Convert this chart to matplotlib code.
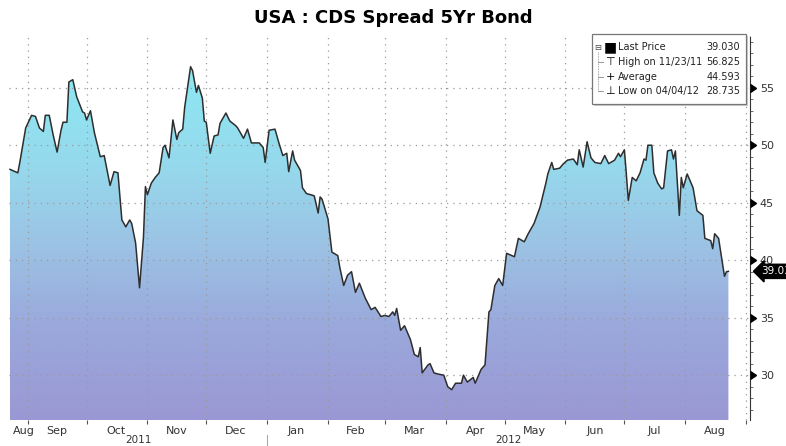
import numpy as np
import matplotlib
matplotlib.use("Agg")
import matplotlib.pyplot as plt
import matplotlib.dates as mdates
import matplotlib.transforms as mtransforms
from matplotlib.colors import LinearSegmentedColormap
from matplotlib.patches import Rectangle

# ---------------- data ----------------
start_date = "2011-08-22"
days = [1, 5, 6, 9, 12, 14, 16, 18, 19, 21, 23, 25, 27, 28, 30, 31, 33, 35, 38, 39,
        40, 42, 44, 47, 49, 52, 54, 56, 58, 60, 62, 63, 65, 67, 69, 70, 71, 73, 75, 77,
        79, 80, 82, 83, 84, 86, 87, 89, 90, 93, 94, 96, 97, 99, 100, 101, 103, 105, 107, 108,
        111, 113, 116, 117, 120, 122, 124, 128, 130, 131, 133, 136, 138, 140, 142, 143, 145, 146, 149, 150,
        152, 154, 156, 158, 159, 160, 163, 165, 168, 169, 171, 173, 175, 177, 179, 182, 185, 187, 190, 192,
        194, 196, 197, 198, 200, 202, 205, 207, 209, 210, 211, 214, 215, 217, 219, 222, 224, 226, 228, 231,
        232, 234, 237, 238, 241, 243, 245, 246, 248, 250, 252, 254, 258, 260, 263, 265, 268, 271, 274, 275,
        277, 278, 281, 283, 285, 288, 290, 291, 293, 295, 297, 299, 302, 304, 306, 309, 311, 312, 314, 315,
        316, 318, 320, 322, 324, 325, 326, 328, 329, 331, 333, 334, 336, 338, 339, 340, 342, 343, 344, 346,
        348, 349, 351, 354, 355, 358, 359, 360, 362, 365, 366, 367]
values = [47.9, 47.6, 48.5, 51.5, 52.6, 52.5, 51.5, 51.2, 52.6, 52.6, 50.9, 49.4, 51.3, 52.0, 52.0, 55.5, 55.7, 54.2, 52.9, 52.8,
          52.2, 53.0, 51.1, 49.0, 49.1, 46.5, 47.7, 47.6, 43.5, 42.9, 43.5, 43.2, 41.5, 37.6, 42.0, 46.4, 45.7, 46.7, 47.2, 47.6,
          49.8, 50.0, 48.9, 50.5, 52.2, 50.5, 51.1, 51.4, 53.3, 56.825, 56.5, 54.6, 55.2, 54.1, 52.1, 52.0, 49.3, 50.8, 50.9, 51.9,
          52.8, 52.1, 51.7, 51.5, 50.6, 51.4, 50.2, 50.2, 49.8, 48.5, 51.3, 51.4, 50.2, 49.1, 49.3, 47.7, 49.5, 48.7, 47.8, 46.3,
          45.8, 45.7, 45.6, 44.1, 45.5, 45.3, 43.6, 40.7, 40.4, 39.4, 37.8, 38.7, 39.0, 37.2, 38.0, 36.7, 35.7, 35.9, 35.1, 35.2,
          35.1, 35.5, 35.2, 35.8, 33.9, 34.3, 33.1, 31.8, 31.6, 32.4, 30.2, 30.9, 31.0, 30.2, 30.1, 30.0, 29.0, 28.735, 29.3, 29.3,
          30.0, 29.4, 29.8, 29.3, 30.5, 30.9, 35.5, 35.7, 37.8, 38.4, 37.8, 40.6, 40.3, 41.9, 41.6, 42.3, 43.2, 44.6, 46.7, 47.5,
          48.5, 47.9, 48.0, 48.4, 48.7, 48.8, 48.3, 49.6, 48.1, 50.3, 48.9, 48.5, 48.4, 49.1, 48.4, 48.7, 49.3, 49.0, 49.6, 47.5,
          45.2, 47.2, 46.9, 47.6, 48.8, 48.7, 50.0, 50.0, 47.6, 46.7, 46.2, 46.3, 49.5, 49.6, 48.8, 49.5, 43.9, 47.2, 46.3, 47.5,
          46.7, 46.3, 44.3, 43.9, 41.9, 41.7, 41.0, 42.3, 41.9, 38.6, 39.0, 39.03]

month_labels = ["Aug", "Sep", "Oct", "Nov", "Dec", "Jan", "Feb", "Mar", "Apr", "May", "Jun", "Jul", "Aug"]
month_label_dates = ["2011-08-30", "2011-09-16", "2011-10-16", "2011-11-16", "2011-12-16", "2012-01-16",
                     "2012-02-15", "2012-03-16", "2012-04-16", "2012-05-16", "2012-06-16", "2012-07-16", "2012-08-16"]
year_labels = ["2011", "2012"]
y_ticks = [30, 35, 40, 45, 50, 55]
legend_labels = ["Last Price", "High on 11/23/11", "Average", "Low on 04/04/12"]
legend_values = [39.030, 56.825, 44.593, 28.735]
title = "USA : CDS Spread 5Yr Bond"

# ---------------- figure ----------------
W, H = 786, 446
fig = plt.figure(figsize=(W / 100, H / 100), dpi=100)
ax = fig.add_axes([9 / W, 26 / H, (750 - 9) / W, (420 - 36) / H])

dates = np.datetime64(start_date) + np.array(days).astype("timedelta64[D]")
x = mdates.date2num(dates)
x0 = mdates.date2num(np.datetime64(start_date)) + 0.5
x1 = mdates.date2num(np.datetime64("2012-09-03"))
ymin, ymax = 26.1, 59.5
ax.set_xlim(x0, x1)
ax.set_ylim(ymin, ymax)

# gradient fill under the curve
cmap = LinearSegmentedColormap.from_list(
    "bbg", [(0.0, "#9a98d4"), (0.25, "#9aa9dc"), (0.45, "#9cc2e4"), (0.65, "#96d8ec"), (1.0, "#8aeef5")])
grad = np.linspace(0, 1, 256).reshape(-1, 1)
poly = ax.fill_between(x, values, ymin, facecolor="none", edgecolor="none")
im = ax.imshow(grad, extent=[x0, x1, ymin, ymax], origin="lower", aspect="auto", cmap=cmap, zorder=1)
im.set_clip_path(poly.get_paths()[0], transform=ax.transData)
ax.plot(x, values, color="#2e2e2e", lw=1.1, zorder=3)

# grid
ax.set_yticks(y_ticks)
ax.yaxis.set_minor_locator(matplotlib.ticker.MultipleLocator(1))
ax.xaxis.set_major_locator(mdates.MonthLocator())
ax.xaxis.set_major_formatter(matplotlib.ticker.NullFormatter())
ax.grid(True, which="major", color="#9a9a9a", linestyle=(0, (1, 4)), lw=0.9, zorder=2)

# month labels (minor ticks, no marks)
lab_x = mdates.date2num(np.array(month_label_dates, dtype="datetime64[D]"))
ax.xaxis.set_minor_locator(matplotlib.ticker.FixedLocator(lab_x))
ax.xaxis.set_minor_formatter(matplotlib.ticker.FixedFormatter(month_labels))
ax.tick_params(axis="x", which="minor", length=0, labelsize=8, labelcolor="#333333", pad=4)
ax.tick_params(axis="x", which="major", length=3, color="#555555", direction="out")

# year labels centered on visible part of each year
jan1 = mdates.date2num(np.datetime64("2012-01-01"))
yr_centers = [(x0 + jan1) / 2, (jan1 + x1) / 2]
btrans = mtransforms.blended_transform_factory(ax.transData, ax.transAxes)
for xc, lab in zip(yr_centers, year_labels):
    ax.text(xc, -0.053, lab, transform=btrans, ha="center", va="center", fontsize=7.5, color="#333333")
ax.plot([jan1, jan1], [-0.04, -0.07], transform=btrans, color="#aaaaaa", lw=0.8, clip_on=False)

# right y axis
ax.yaxis.tick_right()
ax.tick_params(axis="y", which="major", length=0, labelsize=8, labelcolor="#333333", pad=7)
ax.tick_params(axis="y", which="minor", length=2, color="#555555", direction="out")
ytrans = mtransforms.blended_transform_factory(ax.transAxes, ax.transData)
ax.plot([1.0] * len(y_ticks), y_ticks, transform=ytrans, marker=9, ms=6, color="black",
        linestyle="none", clip_on=False, zorder=5)
for s in ["top", "left", "bottom"]:
    ax.spines[s].set_visible(False)
ax.spines["right"].set_color("#333333")
ax.spines["right"].set_linestyle((0, (1, 1)))

# last price tag
last = values[-1]
ax.annotate(f"{last:.3f}", xy=(1.0, last), xycoords=ytrans, xytext=(8, 0), textcoords="offset points",
            ha="left", va="center", fontsize=7.5, color="white", annotation_clip=False,
            bbox=dict(boxstyle="larrow,pad=0.2", fc="black", ec="black"))

# legend box
bx0, bx1, by0, by1 = 592 / W, 746 / W, 1 - 104 / H, 1 - 34 / H
fig.patches.append(Rectangle((bx0 + 1.5 / W, by0 - 1.5 / H), bx1 - bx0, by1 - by0, transform=fig.transFigure,
                             fc="#cccccc", ec="none", zorder=5))
fig.patches.append(Rectangle((bx0, by0), bx1 - bx0, by1 - by0, transform=fig.transFigure,
                             fc="white", ec="#777777", lw=0.9, zorder=6))
row_y = [1 - 47 / H, 1 - 62 / H, 1 - 77 / H, 1 - 91 / H]
icons = ["\u25A0", "\u22A4", "+", "\u22A5"]
for yy, lab, val, ic in zip(row_y, legend_labels, legend_values, icons):
    fig.text(618 / W, yy, lab, ha="left", va="center", fontsize=7, color="#222222", zorder=7)
    fig.text(740 / W, yy, f"{val:.3f}", ha="right", va="center", fontsize=7, color="#222222", zorder=7)
    fig.text(610 / W, yy, ic, ha="center", va="center", fontsize=8 if ic != "\u25A0" else 10,
             color="black", zorder=7)
fig.text(598 / W, row_y[0], "\u229F", ha="center", va="center", fontsize=6, color="#444444", zorder=7)
fig.lines.append(plt.Line2D([598 / W, 598 / W], [row_y[0] - 5 / H, row_y[3]], transform=fig.transFigure,
                            color="#888888", lw=0.6, linestyle=(0, (1, 1)), zorder=7))
for yy in row_y[1:]:
    fig.lines.append(plt.Line2D([598 / W, 603 / W], [yy, yy], transform=fig.transFigure,
                                color="#888888", lw=0.6, zorder=7))

fig.text(0.5, 1 - 18 / H, title, ha="center", va="center", fontsize=13, fontweight="bold", color="black")

fig.savefig("out.png", dpi=100)
